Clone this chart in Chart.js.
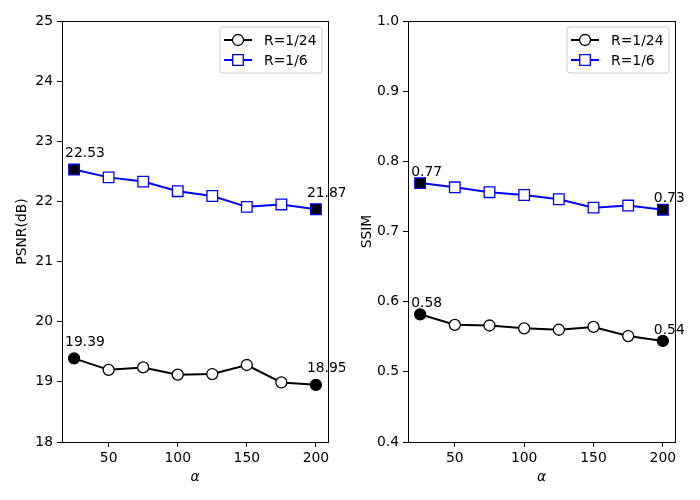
<!DOCTYPE html>
<html><head><meta charset="utf-8">
<script src="https://cdn.jsdelivr.net/npm/chart.js@4/dist/chart.umd.min.js"></script>
<style>
html,body{margin:0;padding:0;background:#fff;width:700px;height:500px;overflow:hidden}
#w1{position:absolute;left:0;top:0;width:345px;height:500px}
#w2{position:absolute;left:345px;top:0;width:355px;height:500px}
</style></head><body>
<div id="w1"><canvas id="c1"></canvas></div>
<div id="w2"><canvas id="c2"></canvas></div>
<script>
const alphaValues = [25, 50, 75, 100, 125, 150, 175, 200];
const xTickValues = [50, 100, 150, 200];
const seriesNames = ['R=1/24', 'R=1/6'];
const psnrR24 = [19.39, 19.20, 19.24, 19.12, 19.13, 19.28, 18.99, 18.95];
const psnrR6  = [22.53, 22.40, 22.33, 22.17, 22.09, 21.91, 21.95, 21.87];
const ssimR24 = [0.582, 0.567, 0.566, 0.562, 0.560, 0.564, 0.551, 0.544];
const ssimR6  = [0.769, 0.763, 0.756, 0.752, 0.746, 0.734, 0.737, 0.731];
const psnrRange = [18, 25];
const ssimRange = [0.4, 1.0];

const FONT = 'DejaVu Sans';
const FS = 13.9;

function faces(n, endColor) {
  return alphaValues.map((_, i) => (i === 0 || i === n - 1) ? endColor : '#ffffff');
}
function pts(arr) { return alphaValues.map((a, i) => ({x: a, y: arr[i]})); }

function makeDatasets(r24, r6) {
  const n = alphaValues.length;
  return [
    {label: seriesNames[0], data: pts(r24), borderColor: '#000000', borderWidth: 2,
     pointStyle: 'circle', pointRadius: 5.5, pointBorderWidth: 1.3, pointBorderColor: '#000000',
     pointBackgroundColor: faces(n, '#000000'), tension: 0},
    {label: seriesNames[1], data: pts(r6), borderColor: '#0000ff', borderWidth: 2,
     pointStyle: 'rect', pointRadius: 7.5, pointBorderWidth: 1.3, pointBorderColor: '#0000ff',
     pointBackgroundColor: faces(n, '#000000'), tension: 0}
  ];
}

const framePlugin = {
  id: 'frame',
  afterDraw(chart, args, opts) {
    const ctx = chart.ctx, a = chart.chartArea;
    ctx.save();
    ctx.strokeStyle = '#000'; ctx.lineWidth = 1;
    ctx.strokeRect(Math.round(a.left) + 0.5, Math.round(a.top) + 0.5, Math.round(a.right - a.left), Math.round(a.bottom - a.top));
    // annotations
    ctx.font = FS + 'px "' + FONT + '"';
    ctx.fillStyle = '#000';
    ctx.textBaseline = 'middle';
    ctx.textAlign = 'left';
    const xs = chart.scales.x, ys = chart.scales.y;
    chart.data.datasets.forEach(ds => {
      const d = ds.data;
      [0, d.length - 1].forEach(i => {
        const px = xs.getPixelForValue(d[i].x), py = ys.getPixelForValue(d[i].y);
        ctx.fillText(d[i].y.toFixed(2), px + opts.dx, py + opts.dy);
      });
    });
    // legend
    const bw = 102, bh = 46;
    const bx = a.right - 6 - bw, by = a.top + 6;
    ctx.beginPath();
    const r = 3;
    ctx.moveTo(bx + r, by); ctx.lineTo(bx + bw - r, by); ctx.arcTo(bx + bw, by, bx + bw, by + r, r);
    ctx.lineTo(bx + bw, by + bh - r); ctx.arcTo(bx + bw, by + bh, bx + bw - r, by + bh, r);
    ctx.lineTo(bx + r, by + bh); ctx.arcTo(bx, by + bh, bx, by + bh - r, r);
    ctx.lineTo(bx, by + r); ctx.arcTo(bx, by, bx + r, by, r);
    ctx.closePath();
    ctx.fillStyle = 'rgba(255,255,255,0.8)'; ctx.fill();
    ctx.strokeStyle = '#cccccc'; ctx.lineWidth = 1; ctx.stroke();
    chart.data.datasets.forEach((ds, k) => {
      const yy = by + 13 + k * 20;
      ctx.beginPath();
      ctx.strokeStyle = ds.borderColor; ctx.lineWidth = 2;
      ctx.moveTo(bx + 4, yy); ctx.lineTo(bx + 32, yy); ctx.stroke();
      ctx.lineWidth = 1.3; ctx.fillStyle = '#fff'; ctx.strokeStyle = ds.pointBorderColor;
      ctx.beginPath();
      if (ds.pointStyle === 'circle') {
        ctx.arc(bx + 18, yy, 5.5, 0, Math.PI * 2);
      } else {
        ctx.rect(bx + 18 - 5.3, yy - 5.3, 10.6, 10.6);
      }
      ctx.fill(); ctx.stroke();
      ctx.fillStyle = '#000';
      ctx.fillText(ds.label, bx + 44, yy + 1);
    });
    ctx.restore();
  }
};

function makeChart(id, r24, r6, yr, step, ytitle, yAxisWidth, rightPad, dy, decimals) {
  return new Chart(document.getElementById(id), {
    type: 'line',
    data: {datasets: makeDatasets(r24, r6)},
    plugins: [framePlugin],
    options: {
      responsive: true, maintainAspectRatio: false, animation: false,
      layout: {padding: {top: 21, right: rightPad, left: 0, bottom: 0}},
      plugins: {legend: {display: false}, tooltip: {enabled: false}, frame: {dx: -9, dy: dy}},
      scales: {
        x: {
          type: 'linear', min: 16.25, max: 208.75,
          afterBuildTicks: s => { s.ticks = xTickValues.map(v => ({value: v})); },
          afterFit: s => { s.height = 58; },
          grid: {drawOnChartArea: false, drawTicks: true, tickLength: 5, color: '#000'},
          border: {display: true, color: '#000'},
          ticks: {color: '#000', font: {family: FONT, size: FS}, padding: 3, maxRotation: 0},
          title: {display: true, text: 'α', color: '#000', font: {family: FONT, size: FS, style: 'italic'}, padding: {top: 0, bottom: 14}}
        },
        y: {
          type: 'linear', min: yr[0], max: yr[1],
          afterFit: s => { s.width = yAxisWidth; },
          grid: {drawOnChartArea: false, drawTicks: true, tickLength: 5, color: '#000'},
          border: {display: true, color: '#000'},
          ticks: {color: '#000', font: {family: FONT, size: FS}, padding: 4, stepSize: step,
                  callback: v => Number(v).toFixed(decimals)},
          title: {display: true, text: ytitle, color: '#000', font: {family: FONT, size: FS}, padding: {top: 14, bottom: 0}}
        }
      }
    }
  });
}

makeChart('c1', psnrR24, psnrR6, psnrRange, 1, 'PSNR(dB)', 62, 17, -16, 0);
makeChart('c2', ssimR24, ssimR6, ssimRange, 0.1, 'SSIM', 63, 25, -11, 1);
</script>
</body></html>
